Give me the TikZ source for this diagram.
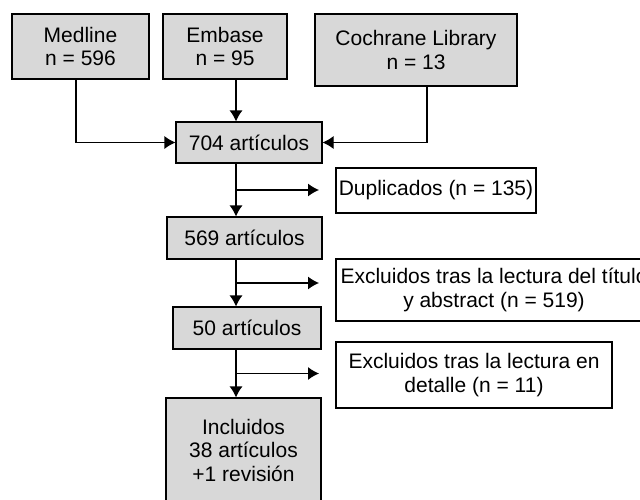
\documentclass[tikz,border=0pt]{standalone}
\usepackage{fontspec}
\setmainfont{Liberation Sans}
\usetikzlibrary{arrows.meta}
\definecolor{boxgray}{RGB}{216,216,216}
\begin{document}
\begin{tikzpicture}[x=1pt, y=1pt, line width=1.1pt,
  box/.style = {draw, fill=boxgray, align=center, inner sep=0pt,
    font=\fontsize{21pt}{23.5pt}\selectfont},
  note/.style = {draw, fill=white, align=center, inner sep=0pt,
    font=\fontsize{21pt}{23.5pt}\selectfont},
  arr/.style = {-{Latex[length=11pt, width=13pt]}}]
\useasboundingbox (0,0) rectangle (640,-499);
\node [box, minimum width=137, minimum height=65] (medline) at (80.5,-46.5) {Medline\\n = 596};
\node [box, minimum width=124, minimum height=65] (embase) at (225,-46.5) {Embase\\n = 95};
\node [box, minimum width=202, minimum height=72] (cochrane) at (416,-50) {Cochrane Library\\n = 13};
\node [box, minimum width=146, minimum height=41] (a704) at (249,-142.5) {704 artículos};
\node [note, minimum width=200, minimum height=45] (dup) at (436,-190.5) {Duplicados (n = 135)};
\node [box, minimum width=155, minimum height=42] (a569) at (244.5,-238) {569 artículos};
\node [note, minimum width=316, minimum height=62] (excl1) at (494,-290) {Excluidos tras la lectura del título\\y abstract (n = 519)};
\node [box, minimum width=148, minimum height=42] (a50) at (247,-328) {50 artículos};
\node [note, minimum width=276, minimum height=66] (excl2) at (474,-375) {Excluidos tras la lectura en\\detalle (n = 11)};
\node [box, minimum width=155, minimum height=104] (incl) at (243.5,-450) {Incluidos\\38 artículos\\+1 revisión};
\coordinate (trunk) at (236,0);
\coordinate (tips) at (319,0);
\draw [arr] ([xshift=-4.5pt]medline.south) |- (a704.west);
\draw [arr] (embase.south -| trunk) -- (a704.north -| trunk);
\draw [arr] ([xshift=11pt]cochrane.south) |- (a704.east);
\draw [arr] (a704.south -| trunk) -- coordinate[midway] (b1) (a569.north -| trunk);
\draw [arr] (b1) -- (b1 -| tips);
\draw [arr] (a569.south -| trunk) -- coordinate[midway] (b2) (a50.north -| trunk);
\draw [arr] (b2) -- (b2 -| tips);
\draw [arr] (a50.south -| trunk) -- coordinate[midway] (b3) (incl.north -| trunk);
\draw [arr] (b3) -- (b3 -| tips);
\end{tikzpicture}
\end{document}
